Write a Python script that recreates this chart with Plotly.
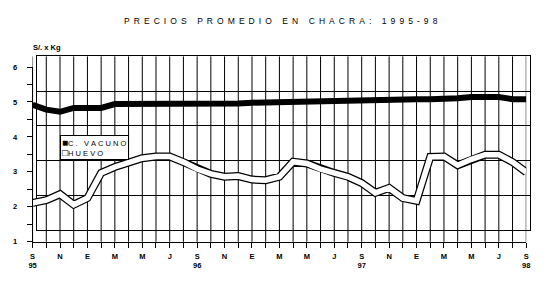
import plotly.graph_objects as go

W, H = 547, 303

months = list(range(37))  # Sep 1995 .. Sep 1998
tick_pos = list(range(0, 37, 2))
tick_text = ["S<br>95", "N", "E", "M", "M", "J",
             "S<br>96", "N", "E", "M", "M", "J",
             "S<br>97", "N", "E", "M", "M", "J",
             "S<br>98"]

vacuno = [4.92, 4.78, 4.72, 4.83, 4.83, 4.83, 4.94, 4.94, 4.94, 4.94,
          4.94, 4.94, 4.93, 4.94, 4.95, 4.96, 4.98, 4.99, 5.01, 5.01,
          5.03, 5.03, 5.03, 5.07, 5.08, 5.08, 5.08, 5.08, 5.08, 5.08,
          5.08, 5.11, 5.14, 5.15, 5.14, 5.08, 5.08]

huevo = [2.11, 2.19, 2.36, 2.06, 2.25, 2.97, 3.14, 3.25, 3.39, 3.44,
         3.44, 3.28, 3.08, 2.94, 2.86, 2.88, 2.78, 2.76, 2.86, 3.29,
         3.24, 3.08, 2.97, 2.86, 2.68, 2.40, 2.54, 2.25, 2.17, 3.43,
         3.44, 3.19, 3.36, 3.49, 3.49, 3.28, 2.99]

y_ticks = [1, 2, 3, 4, 5, 6]
Y_MIN, Y_MAX = 1, 6


def spaced(s, sep):
    return sep.join("\u00a0" if c == " " else c for c in s)


def px_x(p):
    return p / W


def px_y(p):
    return (H - p) / H


fig = go.Figure()

# back wall subplot (horizontal grid + frame)
fig.add_trace(go.Scatter(x=months, y=vacuno, xaxis="x", yaxis="y",
                         mode="lines", line=dict(width=0), opacity=0,
                         hoverinfo="skip", showlegend=False))

# data
fig.add_trace(go.Scatter(x=months, y=huevo, xaxis="x2", yaxis="y2",
                         mode="lines", line=dict(color="black", width=8),
                         hoverinfo="skip", showlegend=False))
fig.add_trace(go.Scatter(x=months, y=huevo, xaxis="x2", yaxis="y2",
                         mode="lines", line=dict(color="white", width=5.5),
                         name="HUEVO", showlegend=False))
fig.add_trace(go.Scatter(x=months, y=vacuno, xaxis="x2", yaxis="y2",
                         mode="lines", line=dict(color="black", width=6),
                         name="C. VACUNO", showlegend=False))

# vertical month grid lines, from the floor front edge up to the back wall top
for m in months:
    fig.add_shape(type="line", xref="x2", yref="paper", x0=m, x1=m,
                  y0=px_y(245), y1=px_y(54), layer="below",
                  line=dict(color="black", width=1))

tick_font = dict(family="Liberation Sans", size=7.5, color="black", weight=700)

fig.update_layout(
    width=W, height=H,
    margin=dict(l=0, r=0, t=0, b=0),
    paper_bgcolor="white", plot_bgcolor="rgba(0,0,0,0)",
    showlegend=False,
    xaxis=dict(domain=[px_x(33), px_x(534)], range=[0, 36], anchor="y",
               showgrid=False, showticklabels=False, ticks="", zeroline=False,
               showline=True, linecolor="black", linewidth=1, mirror=True),
    yaxis=dict(domain=[px_y(233), px_y(54)], range=[Y_MIN, Y_MAX], anchor="x",
               showgrid=True, gridcolor="black", gridwidth=1,
               tickmode="array", tickvals=y_ticks,
               showticklabels=False, ticks="", zeroline=False,
               showline=True, linecolor="black", linewidth=1, mirror=True),
    xaxis2=dict(domain=[px_x(29), px_x(530)], range=[0, 36], anchor="y2",
                showgrid=False, zeroline=False, showline=True,
                linecolor="black", linewidth=1,
                tickmode="array", tickvals=tick_pos, ticktext=tick_text,
                ticks="outside", ticklen=5, tickcolor="black",
                ticklabelstandoff=2,
                minor=dict(tickvals=months, ticks="outside", ticklen=5,
                           tickcolor="black", showgrid=False),
                tickfont=tick_font),
    yaxis2=dict(domain=[px_y(245), px_y(65)], range=[Y_MIN, Y_MAX], anchor="x2",
                showgrid=False, zeroline=False, showline=True,
                linecolor="black", linewidth=1,
                tickmode="array", tickvals=y_ticks,
                ticktext=[str(v) for v in y_ticks],
                ticks="outside", ticklen=5, tickcolor="black",
                minor=dict(dtick=0.5, tick0=1, ticks="outside", ticklen=5,
                           tickcolor="black", showgrid=False),
                tickfont=tick_font, ticklabelstandoff=8),
)

fig.add_annotation(text=spaced("PRECIOS PROMEDIO EN CHACRA: 1995-98", "\u00a0\u2009"),
                   xref="paper", yref="paper", x=px_x(120), y=px_y(18),
                   xanchor="left", yanchor="middle", showarrow=False,
                   font=dict(family="Liberation Sans", size=8.5, color="black"))

fig.add_annotation(text="S/. x Kg", xref="paper", yref="paper",
                   x=px_x(27), y=px_y(45), xanchor="left", yanchor="middle",
                   showarrow=False,
                   font=dict(family="Liberation Sans", size=7.5, color="black",
                             weight=700))

fig.add_annotation(
    text=("<span style='font-size:10px'>\u25a0</span>" + spaced("C. VACUNO", "\u00a0")
          + "<br><span style='font-size:10px'>\u25a1</span>" + spaced("HUEVO", "\u00a0")),
    xref="paper", yref="paper", x=px_x(57), y=px_y(135),
    xanchor="left", yanchor="top", align="left",
    showarrow=False, bgcolor="white", bordercolor="black",
    borderwidth=1, borderpad=1,
    font=dict(family="Liberation Sans", size=7.5, color="black"))

fig.write_html("out.html")
